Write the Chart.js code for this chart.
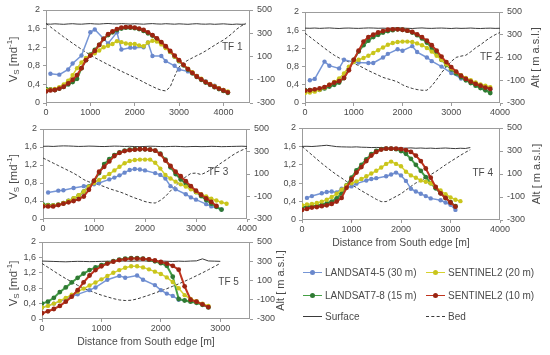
<!DOCTYPE html>
<html>
<head>
<meta charset="utf-8">
<script src="https://cdn.jsdelivr.net/npm/chart.js@4.4.0/dist/chart.umd.min.js"></script>
<style>
  body { margin: 0; width: 550px; height: 355px; background: #fff; position: relative; overflow: hidden;
         font-family: "Liberation Sans", Arial, sans-serif; }
  canvas.panel { position: absolute; left: 0; top: 0; }
  .leg { position: absolute; height: 12px; display: flex; align-items: center; font-size: 10px; color: #4a4a4a; white-space: nowrap; }
  .leg .sw { position: relative; width: 19px; height: 0; margin-right: 3px; }
  .leg .dot { position: absolute; left: 7px; top: -3px; width: 5px; height: 5px; border-radius: 50%; }
</style>
</head>
<body>
<canvas id="tf1" class="panel" width="550" height="355"></canvas>
<canvas id="tf2" class="panel" width="550" height="355"></canvas>
<canvas id="tf3" class="panel" width="550" height="355"></canvas>
<canvas id="tf4" class="panel" width="550" height="355"></canvas>
<canvas id="tf5" class="panel" width="550" height="355"></canvas>
<div id="legend"></div>
<script>
// Series (velocity in m/d) and profiles (altitude, m a.s.l.), sampled every 100 m from the South edge
const seriesNames = ['LANDSAT4-5 (30 m)', 'LANDSAT7-8 (15 m)', 'SENTINEL2 (20 m)', 'SENTINEL2 (10 m)'];
const seriesColors = ['#7696d6', '#45a046', '#d6d22e', '#c0341e'];
const markerColors = ['#6a88cc', '#2f7a33', '#c9c51c', '#9a2412'];
const profileNames = ['Surface', 'Bed'];

const vsTicks = [0, 0.4, 0.8, 1.2, 1.6, 2];
const altTicks = [-300, -100, 100, 300, 500];
const distTicks = [0, 1000, 2000, 3000, 4000];
const distTicks5 = [0, 1000, 2000, 3000];

// TF 1
const tf1Dist = [0,100,200,300,400,500,600,700,800,900,1000,1100,1200,1300,1400,1500,1600,1700,1800,1900,
  2000,2100,2200,2300,2400,2500,2600,2700,2800,2900,3000,3100,3200,3300,3400,3500,3600,3700,3800,3900,
  4000,4100,4200,4300,4400,4500];
const tf1L45 = [null,0.63,null,0.61,null,0.72,0.85,null,1.02,null,
  1.52,1.58,null,1.38,1.28,null,1.52,1.15,null,1.19,
  1.19,null,1.20,1.30,1.01,null,1.01,0.90,null,0.80,
  0.72,null,0.68,null,0.58,null,0.47,null,0.37,null,
  0.28,null,null,null,null,null];
const tf1L78 = [0.30,0.29,0.28,0.31,0.35,0.40,0.45,0.52,0.75,0.92,
  1.04,1.14,1.25,1.38,1.46,1.52,1.57,1.60,1.62,1.62,
  1.61,1.59,1.55,1.50,1.45,1.38,1.29,1.20,1.10,1.00,
  0.90,0.81,0.72,0.64,0.56,0.50,0.44,0.39,0.34,0.30,
  0.26,0.22,null,null,null,null];
const tf1S20 = [0.28,0.29,0.30,0.34,0.40,0.48,0.60,0.75,0.87,0.97,
  1.03,1.07,1.13,1.20,1.23,1.27,1.33,1.31,1.28,1.27,
  1.27,1.24,1.22,1.30,1.34,1.32,1.26,1.18,1.10,1.00,
  0.91,0.82,0.74,0.66,0.58,0.52,0.46,0.41,0.36,0.32,
  0.28,0.25,null,null,null,null];
const tf1S10 = [0.25,0.27,0.28,0.31,0.35,0.42,0.50,0.60,0.75,0.92,
  1.02,1.12,1.25,1.38,1.48,1.54,1.59,1.62,1.63,1.63,
  1.62,1.60,1.57,1.52,1.46,1.39,1.31,1.22,1.12,1.02,
  0.92,0.82,0.73,0.65,0.57,0.51,0.45,0.40,0.35,0.31,
  0.27,0.23,null,null,null,null];
const tf1Surf = [380,378,381,379,377,380,382,379,378,381,
  383,380,379,382,384,381,380,383,381,379,
  382,380,378,381,383,380,379,382,380,378,
  381,379,377,380,382,379,378,380,377,379,
  381,378,376,379,377,378];
const tf1Bed = [385,355,325,297,268,241,214,188,162,137,
  112,90,70,50,30,11,-8,-27,-45,-63,
  -81,-100,-120,-140,-158,-176,-190,-196,-162,-70,
  11,45,68,88,108,126,148,172,196,220,
  241,268,300,335,362,385];

// TF 2
const tf2Dist = [0,100,200,300,400,500,600,700,800,900,1000,1100,1200,1300,1400,1500,1600,1700,1800,1900,
  2000,2100,2200,2300,2400,2500,2600,2700,2800,2900,3000,3100,3200,3300,3400,3500,3600,3700,3800,3900,4000];
const tf2L45 = [null,0.50,0.53,null,0.91,0.82,null,0.76,0.95,null,
  0.90,0.89,null,0.88,0.88,null,1.00,1.08,null,1.18,
  1.15,null,1.25,1.12,null,1.00,0.92,null,0.80,null,
  0.66,null,0.54,null,0.45,null,0.38,null,0.30,null,
  null];
const tf2L78 = [0.28,0.28,0.28,0.29,0.32,0.36,0.40,0.45,0.55,0.75,
  0.95,1.13,1.27,1.37,1.45,1.50,1.55,1.58,1.60,1.62,
  1.61,1.59,1.55,1.49,1.42,1.33,1.21,1.08,0.95,0.84,
  0.74,0.65,0.57,0.50,0.44,0.38,0.33,0.28,0.22,null,
  null];
const tf2S20 = [0.22,0.23,0.25,0.29,0.34,0.40,0.46,0.54,0.65,0.80,
  0.90,0.95,0.99,1.04,1.10,1.16,1.22,1.28,1.32,1.34,
  1.35,1.35,1.34,1.31,1.27,1.21,1.13,1.04,0.95,0.85,
  0.76,0.68,0.61,0.55,0.50,0.45,0.41,0.38,0.35,null,
  null];
const tf2S10 = [0.27,0.28,0.30,0.32,0.35,0.40,0.45,0.48,0.55,0.72,
  0.95,1.15,1.35,1.45,1.50,1.55,1.58,1.61,1.62,1.62,
  1.61,1.59,1.56,1.51,1.45,1.37,1.27,1.15,1.02,0.90,
  0.79,0.69,0.60,0.53,0.47,0.42,0.38,0.34,0.31,null,
  null];
const tf2Surf = [358,357,359,356,358,360,357,355,358,359,
  357,356,358,360,359,357,358,356,359,361,
  358,357,355,358,360,357,356,358,359,357,
  355,358,356,357,359,356,355,357,358,356,
  357];
const tf2Bed = [314,281,248,215,182,150,120,96,78,62,
  47,30,8,-15,-35,-55,-75,-88,-100,-115,
  -140,-158,-172,-182,-188,-188,-150,-95,-35,19,
  65,101,112,120,150,185,212,245,275,300,
  320];

// TF 3
const tf3Dist = tf2Dist.slice();
const tf3L45 = [null,0.59,null,0.63,0.64,null,0.69,null,0.73,null,
  0.77,0.80,null,0.88,0.92,0.97,1.03,1.09,1.11,1.10,
  1.08,null,1.02,0.98,0.90,0.73,0.66,null,0.55,0.48,
  0.43,null,0.33,0.28,null,0.21,null,null,null,null,
  null];
const tf3L78 = [0.32,0.31,0.30,0.32,0.35,0.40,0.45,0.52,0.61,0.72,
  0.84,1.02,1.22,1.33,1.42,1.48,1.52,1.54,1.55,1.55,
  1.55,1.54,1.52,1.45,1.32,1.15,1.00,0.88,0.78,0.69,
  0.60,0.51,0.42,0.34,0.27,0.21,null,null,null,null,
  null];
const tf3S20 = [0.30,0.30,0.30,0.32,0.35,0.40,0.46,0.53,0.61,0.72,
  0.80,0.87,0.93,1.00,1.08,1.16,1.24,1.29,1.31,1.32,
  1.32,1.32,1.25,1.12,0.98,0.90,0.83,0.77,0.72,0.66,
  0.60,0.55,0.50,0.45,0.41,0.37,0.34,null,null,null,
  null];
const tf3S10 = [0.28,0.28,0.28,0.31,0.34,0.37,0.40,0.44,0.50,0.65,
  0.85,1.05,1.16,1.28,1.40,1.47,1.51,1.53,1.54,1.55,
  1.55,1.54,1.52,1.44,1.30,1.18,1.05,0.95,0.84,0.73,
  0.63,0.54,0.46,0.38,0.29,null,null,null,null,null,
  null];
const tf3Surf = [346,347,345,348,350,349,347,345,346,348,
  347,345,344,346,348,347,345,346,344,343,
  345,347,346,344,343,345,346,344,342,344,
  345,343,344,346,345,343,344,345,346,347,
  345];
const tf3Bed = [242,220,197,175,152,130,107,80,50,30,
  18,3,-12,-30,-45,-58,-75,-95,-113,-128,
  -145,-155,-158,-135,-100,-50,-5,40,75,105,
  108,95,115,142,168,200,230,262,290,312,
  331];

// TF 4
const tf4Dist = [0,100,200,300,400,500,600,700,800,900,1000,1100,1200,1300,1400,1500,1600,1700,1800,1900,
  2000,2100,2200,2300,2400,2500,2600,2700,2800,2900,3000,3100,3200,3300,3400];
const tf4L45 = [null,0.48,0.52,null,0.58,0.61,0.62,0.60,0.68,null,
  0.73,0.79,null,0.86,0.89,0.91,null,0.95,0.99,1.03,
  0.97,0.85,0.68,0.62,0.57,0.52,0.47,null,0.43,0.38,
  0.33,0.22,null,null,null];
const tf4L78 = [0.28,0.29,0.30,0.31,0.33,0.36,0.40,0.47,0.58,0.75,
  0.92,1.08,1.20,1.32,1.43,1.50,1.54,1.55,1.55,1.54,
  1.50,1.44,1.33,1.20,1.07,0.93,0.80,0.69,0.58,0.48,
  0.39,0.30,null,null,null];
const tf4S20 = [0.32,0.34,0.35,0.37,0.40,0.44,0.50,0.57,0.66,0.75,
  0.80,0.84,0.89,0.95,1.01,1.07,1.14,1.22,1.27,1.22,
  1.17,1.05,0.97,0.92,0.86,0.83,0.80,0.72,0.64,0.56,
  0.49,0.44,0.41,null,null];
const tf4S10 = [0.22,0.24,0.27,0.28,0.30,0.32,0.35,0.40,0.48,0.70,
  0.88,1.03,1.15,1.28,1.40,1.48,1.53,1.55,1.55,1.55,
  1.54,1.52,1.48,1.40,1.28,1.12,0.92,0.72,0.58,0.48,
  0.38,0.29,null,null,null];
const tf4Surf = [340,341,339,342,346,350,344,338,336,335,
  334,336,333,332,330,331,330,328,327,329,
  326,325,327,324,326,323,325,322,324,326,
  323,321,324,322,330];
const tf4Bed = [340,303,266,229,192,158,125,93,65,35,
  8,-18,-45,-70,-95,-120,-140,-140,-118,-95,
  -72,-40,-8,22,40,68,95,120,150,180,
  208,235,262,288,311];

// TF 5
const tf5Dist = [0,100,200,300,400,500,600,700,800,900,1000,1100,1200,1300,1400,1500,1600,1700,1800,1900,
  2000,2100,2200,2300,2400,2500,2600,2700,2800,2900,3000];
const tf5L45 = [0.30,null,0.40,null,0.52,null,0.64,null,0.75,0.82,
  null,1.02,null,1.12,1.07,null,1.13,1.02,null,0.88,
  0.75,0.66,0.60,0.50,null,0.47,0.45,null,null,null,
  null];
const tf5L78 = [0.40,0.45,0.55,0.70,0.82,0.95,1.07,1.18,1.27,1.34,
  1.40,1.45,1.50,1.54,1.57,1.58,1.58,1.57,1.54,1.50,
  1.45,1.38,1.10,0.52,0.48,0.45,0.42,0.37,0.30,null,
  null];
const tf5S20 = [0.30,0.34,0.40,0.47,0.55,0.63,0.71,0.79,0.87,0.95,
  1.03,1.12,1.20,1.27,1.33,1.37,1.37,1.34,1.29,1.23,
  1.17,1.08,0.96,0.80,0.62,0.52,0.46,0.40,0.34,null,
  null];
const tf5S10 = [0.15,0.20,0.26,0.34,0.45,0.58,0.75,0.95,1.13,1.27,
  1.37,1.44,1.49,1.53,1.55,1.57,1.57,1.56,1.55,1.52,
  1.48,1.44,1.38,1.28,0.85,0.50,0.45,0.38,0.31,null,
  null];
const tf5Surf = [302,300,298,296,294,297,299,298,296,297,
  299,300,302,301,303,300,302,304,301,299,
  302,300,298,301,299,302,304,325,303,301,
  299];
const tf5Bed = [277,237,197,157,120,85,50,20,-5,-30,
  -52,-70,-88,-102,-108,-105,-92,-72,-52,-30,
  -8,15,40,65,92,120,150,180,212,245,
  278];

const TXT = '#4a4a4a';
const FONT = '"Liberation Sans", Arial, sans-serif';
const AXW = 30, AXH = 20;

// box = [plot left, plot right, plot top, plot bottom] in page pixels
const panels = [
  { id: 'tf1', dist: tf1Dist, s: [tf1L45, tf1L78, tf1S20, tf1S10], surf: tf1Surf, bed: tf1Bed,
    label: 'TF 1', labelAt: [4200, 1.2], xMax: 4600, xt: distTicks, box: [46, 250, 10, 103], vs: true },
  { id: 'tf2', dist: tf2Dist, s: [tf2L45, tf2L78, tf2S20, tf2S10], surf: tf2Surf, bed: tf2Bed,
    label: 'TF 2', labelAt: [3800, 1.0], xMax: 4000, xt: distTicks, box: [305, 500, 12, 103], altGap: 36 },
  { id: 'tf3', dist: tf3Dist, s: [tf3L45, tf3L78, tf3S20, tf3S10], surf: tf3Surf, bed: tf3Bed,
    label: 'TF 3', labelAt: [3430, 1.04], xMax: 4000, xt: distTicks, box: [43, 247, 129, 219], vs: true },
  { id: 'tf4', dist: tf4Dist, s: [tf4L45, tf4L78, tf4S20, tf4S10], surf: tf4Surf, bed: tf4Bed,
    label: 'TF 4', labelAt: [3650, 1.02], xMax: 4000, xt: distTicks, box: [302, 500, 128, 220], altGap: 37,
    xTitle: 'Distance from South edge [m]' },
  { id: 'tf5', dist: tf5Dist, s: [tf5L45, tf5L78, tf5S20, tf5S10], surf: tf5Surf, bed: tf5Bed,
    label: 'TF 5', labelAt: [3140, 0.96], xMax: 3500, xt: distTicks5, box: [42, 250, 242, 319], vs: true, altGap: 31,
    xTitle: 'Distance from South edge [m]' }
];

function pts(dist, vals) {
  const out = [];
  dist.forEach((d, i) => { if (vals[i] !== null) out.push({ x: d, y: vals[i] }); });
  return out;
}

function drawVs(ctx, x, y) {
  const big = '11.5px ' + FONT, small = '8px ' + FONT;
  const parts = [['V', big, 0], ['S', small, 3], [' [md', big, 0], ['-1', small, -4], [']', big, 0]];
  ctx.save();
  ctx.translate(x, y);
  ctx.rotate(-Math.PI / 2);
  let total = 0;
  parts.forEach(p => { ctx.font = p[1]; total += ctx.measureText(p[0]).width; });
  let cx = -total / 2;
  ctx.textAlign = 'left';
  ctx.textBaseline = 'middle';
  parts.forEach(p => { ctx.font = p[1]; ctx.fillText(p[0], cx, p[2]); cx += ctx.measureText(p[0]).width; });
  ctx.restore();
}

const framePlugin = {
  id: 'frame',
  beforeDatasetsDraw(chart) {
    const { ctx, chartArea: a } = chart;
    ctx.save();
    ctx.strokeStyle = '#9c9c9c';
    ctx.lineWidth = 1;
    ctx.strokeRect(Math.round(a.left) + 0.5, Math.round(a.top) + 0.5,
      Math.round(a.right - a.left) - 1, Math.round(a.bottom - a.top) - 1);
    ctx.restore();
  }
};

const textPlugin = {
  id: 'texts',
  afterDraw(chart, args, o) {
    const { ctx, chartArea: a, scales } = chart;
    const midY = (a.top + a.bottom) / 2;
    ctx.save();
    ctx.fillStyle = TXT;
    ctx.textAlign = 'center';
    ctx.textBaseline = 'middle';
    ctx.font = '10px ' + FONT;
    ctx.fillText(o.label, scales.x.getPixelForValue(o.labelAt[0]), scales.y.getPixelForValue(o.labelAt[1]));
    if (o.xTitle) {
      ctx.font = '10.4px ' + FONT;
      ctx.fillText(o.xTitle, (a.left + a.right) / 2, a.bottom + 23.5);
    }
    if (o.altGap) {
      ctx.save();
      ctx.translate(a.right + o.altGap, midY);
      ctx.rotate(-Math.PI / 2);
      ctx.font = '11px ' + FONT;
      ctx.fillText('Alt [ m a.s.l.]', 0, 0);
      ctx.restore();
    }
    if (o.vs) drawVs(ctx, 14, midY + 3);
    ctx.restore();
  }
};

const tickFont = { family: FONT, size: 9 };
const gridOpts = { drawOnChartArea: false, tickLength: 3, color: '#9c9c9c' };
const fixTicks = vals => scale => { scale.ticks = vals.map(v => ({ value: v })); };
const lineW = [1.5, 2, 1.5, 2];
const dotR = [2.2, 2.4, 2.2, 2.4];

panels.forEach(p => {
  const [l, r, t, b] = p.box;
  const ds = p.s.map((vals, k) => ({
    label: seriesNames[k],
    data: pts(p.dist, vals),
    borderColor: seriesColors[k],
    backgroundColor: markerColors[k],
    borderWidth: lineW[k],
    pointRadius: dotR[k],
    pointBorderWidth: 0,
    yAxisID: 'y',
    order: 4 - k
  }));
  ds.push({ label: profileNames[0], data: pts(p.dist, p.surf), borderColor: '#3a3a3a', borderWidth: 1,
    pointRadius: 0, yAxisID: 'y2', order: 5 });
  ds.push({ label: profileNames[1], data: pts(p.dist, p.bed), borderColor: '#3a3a3a', borderWidth: 1,
    borderDash: [3, 2], pointRadius: 0, yAxisID: 'y2', order: 6 });

  new Chart(document.getElementById(p.id), {
    type: 'line',
    data: { datasets: ds },
    options: {
      responsive: false,
      animation: false,
      events: [],
      layout: { padding: { left: l - AXW, right: 550 - r - AXW, top: t, bottom: 355 - b - AXH } },
      plugins: {
        legend: { display: false },
        tooltip: { enabled: false },
        texts: { label: p.label, labelAt: p.labelAt, vs: p.vs, altGap: p.altGap, xTitle: p.xTitle }
      },
      scales: {
        x: {
          type: 'linear', min: 0, max: p.xMax,
          afterBuildTicks: fixTicks(p.xt),
          afterFit: s => { s.height = AXH; },
          ticks: { color: TXT, font: tickFont, padding: 1, maxRotation: 0, autoSkip: false, callback: v => String(v) },
          grid: gridOpts, border: { display: false }
        },
        y: {
          position: 'left', min: 0, max: 2,
          afterBuildTicks: fixTicks(vsTicks),
          afterFit: s => { s.width = AXW; },
          ticks: { color: TXT, font: tickFont, padding: 3, callback: v => String(Math.round(v * 10) / 10).replace('.', ',') },
          grid: gridOpts, border: { display: false }
        },
        y2: {
          position: 'right', min: -300, max: 500,
          afterBuildTicks: fixTicks(altTicks),
          afterFit: s => { s.width = AXW; },
          ticks: { color: TXT, font: tickFont, padding: 4, callback: v => String(v) },
          grid: gridOpts, border: { display: false }
        }
      }
    },
    plugins: [framePlugin, textPlugin]
  });
});

// Legend
const legendItems = [
  { text: seriesNames[0], k: 0, col: 0, row: 0 },
  { text: seriesNames[2], k: 2, col: 1, row: 0 },
  { text: seriesNames[1], k: 1, col: 0, row: 1 },
  { text: seriesNames[3], k: 3, col: 1, row: 1 },
  { text: profileNames[0], col: 0, row: 2 },
  { text: profileNames[1], col: 1, row: 2, dash: true }
];
const colX = [303, 426], rowY = [272, 295, 316];
const legend = document.getElementById('legend');
legendItems.forEach(it => {
  const d = document.createElement('div');
  d.className = 'leg';
  d.style.left = colX[it.col] + 'px';
  d.style.top = (rowY[it.row] - 6) + 'px';
  const sw = document.createElement('span');
  sw.className = 'sw';
  const hasDot = it.k !== undefined;
  sw.style.borderTop = it.dash ? '1px dashed #3a3a3a'
    : (hasDot ? '1.5px solid ' + seriesColors[it.k] : '1px solid #3a3a3a');
  if (hasDot) {
    const dot = document.createElement('span');
    dot.className = 'dot';
    dot.style.background = markerColors[it.k];
    sw.appendChild(dot);
  }
  d.appendChild(sw);
  const tx = document.createElement('span');
  tx.textContent = it.text;
  d.appendChild(tx);
  legend.appendChild(d);
});
</script>
</body>
</html>
